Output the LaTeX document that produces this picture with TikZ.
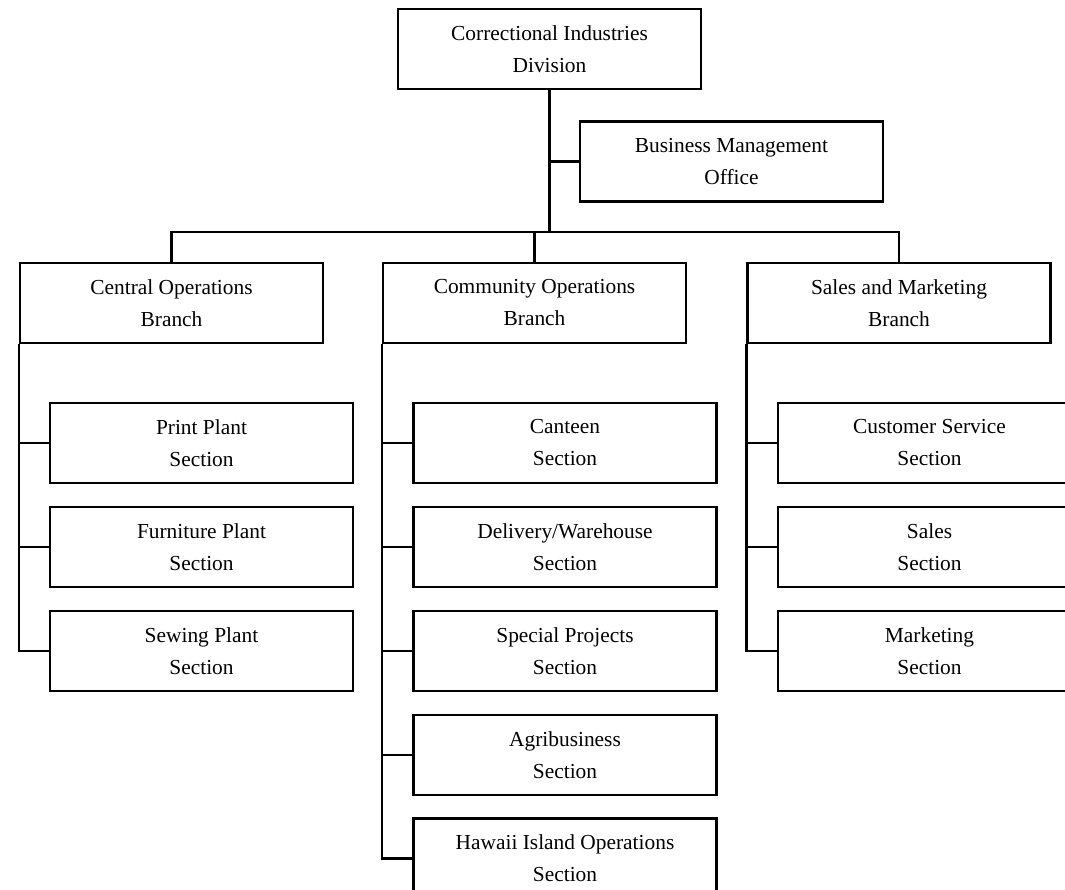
\documentclass[tikz,border=0pt]{standalone}
\usepackage{fontspec}
\setmainfont{Liberation Serif}
\usetikzlibrary{positioning}

\begin{document}
\begin{tikzpicture}[x=1pt, y=-1pt, line width=2.4pt,
  unit/.style={draw, rectangle, minimum width=303pt, minimum height=80pt, inner sep=0pt,
    align=center, font=\fontsize{21.4}{32}\selectfont}]
  \useasboundingbox (0,0) rectangle (1065,889);
  \clip (0,0) rectangle (1065,889);
  \node[unit] (cid) at (549.5,49) {Correctional Industries\\Division};
  \node[unit] (bmo) at (731.5,161.5) {Business Management\\Office};
  \node[unit] (cob) at (171.5,303) {Central Operations\\Branch};
  \node[unit] (comob) at (534.5,303) {Community Operations\\Branch};
  \node[unit] (smb) at (899,303) {Sales and Marketing\\Branch};
  \node[unit] (print) at (201.5,443) {Print Plant\\Section};
  \node[unit, below=21.5pt of print] (furn) {Furniture Plant\\Section};
  \node[unit, below=21.5pt of furn] (sew) {Sewing Plant\\Section};
  \node[unit] (canteen) at (565,443) {Canteen\\Section};
  \node[unit, below=21.5pt of canteen] (deliv) {Delivery/Warehouse\\Section};
  \node[unit, below=21.5pt of deliv] (spec) {Special Projects\\Section};
  \node[unit, below=21.5pt of spec] (agri) {Agribusiness\\Section};
  \node[unit, below=21.5pt of agri] (hawaii) {Hawaii Island Operations\\Section};
  \node[unit] (cust) at (929.5,443) {Customer Service\\Section};
  \node[unit, below=21.5pt of cust] (sales) {Sales\\Section};
  \node[unit, below=21.5pt of sales] (mkt) {Marketing\\Section};
  \coordinate (hub) at (549.5,232);
  \draw (cid.south) -- (hub);
  \draw (cid.south) |- (bmo.west);
  \draw (hub) -| (cob.north);
  \draw (hub) -| (comob.north);
  \draw (hub) -| (smb.north);
  \foreach \s in {print,furn,sew} \draw (cob.south west) |- (\s.west);
  \foreach \s in {canteen,deliv,spec,agri,hawaii} \draw (comob.south west) |- (\s.west);
  \foreach \s in {cust,sales,mkt} \draw (smb.south west) |- (\s.west);
\end{tikzpicture}
\end{document}
